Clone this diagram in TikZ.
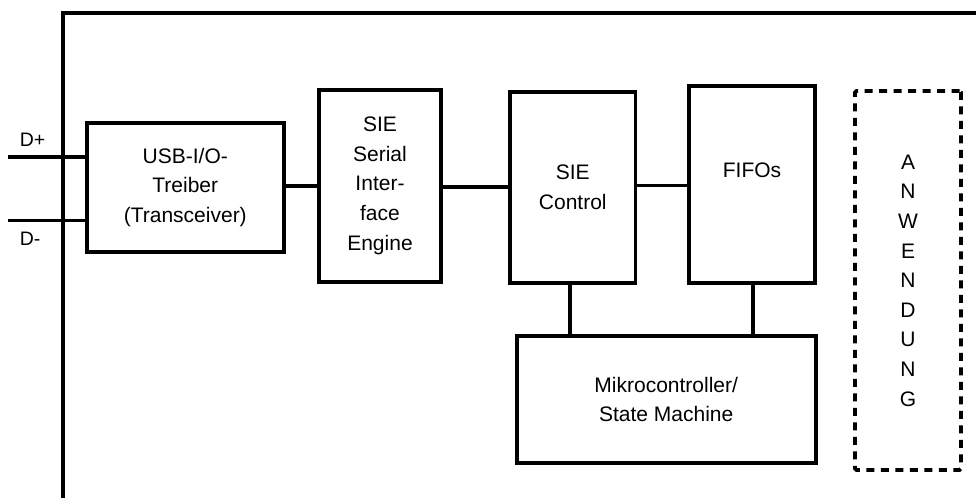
\documentclass[tikz,border=0pt]{standalone}
\usepackage{fontspec}
\setmainfont{Liberation Sans}
\begin{document}
\begin{tikzpicture}[x=1pt,y=-1pt,
  line width=3.6pt, line join=miter,
  blk/.style={draw, rectangle, inner sep=0pt, align=center,
    font=\fontsize{21}{29.6}\selectfont},
  app/.style={blk, dashed, dash pattern=on 8pt off 6.5pt, rounded corners=1.5pt},
  lbl/.style={inner sep=0pt, font=\fontsize{19.5}{22}\selectfont},
  txt/.style={inner sep=0pt, align=center, font=\fontsize{21}{29.6}\selectfont}]
\useasboundingbox (0,0) rectangle (976,498);

% chip outline (open at the bottom and to the right)
\draw (63,498) -- (63,12.7) -- (976,12.7);

% functional blocks
\node[blk, minimum width=197pt, minimum height=129pt] (usb) at (185.3,187.3)
  {USB-I/O-\\Treiber\\(Transceiver)};
\node[blk, minimum width=122pt, minimum height=192pt] (sie) at (380,185.8)
  {SIE\\Serial\\Inter-\\face\\Engine};
\node[blk, minimum width=125.5pt, minimum height=191pt] (ctrl) at (572.8,187.5)
  {SIE\\Control};
\node[blk, minimum width=126pt, minimum height=197pt] (fifo) at (752,184.5) {};
\node[txt] (fifotxt) at (752,170) {FIFOs};
\node[blk, minimum width=299pt, minimum height=127.3pt] (mc) at (666.2,399.4)
  {Mikrocontroller/\\State Machine};
\node[app, minimum width=106pt, minimum height=379pt] (anw) at (908,280.5)
  {A\\N\\W\\E\\N\\D\\U\\N\\G};

% USB data lines
\coordinate (dp) at (8,156.7);
\coordinate (dm) at (8,220.5);
\draw (dp) -- (dp -| usb.west);
\draw (dm) -- (dm -| usb.west);
\node[lbl, anchor=west] (dplbl) at (18,140) {D+};
\node[lbl, anchor=west] (dmlbl) at (18,239) {D-};

% data path
\coordinate (r1) at (0,186);
\coordinate (r2) at (0,186.7);
\coordinate (r3) at (0,185.5);
\draw (r1 -| usb.east) -- (r1 -| sie.west);
\draw (r2 -| sie.east) -- (r2 -| ctrl.west);
\draw (r3 -| ctrl.east) -- (r3 -| fifo.west);

% links to the microcontroller
\coordinate (c1) at (570,0);
\coordinate (c2) at (752.7,0);
\draw (c1 |- ctrl.south) -- (c1 |- mc.north);
\draw (c2 |- fifo.south) -- (c2 |- mc.north);
\end{tikzpicture}
\end{document}
